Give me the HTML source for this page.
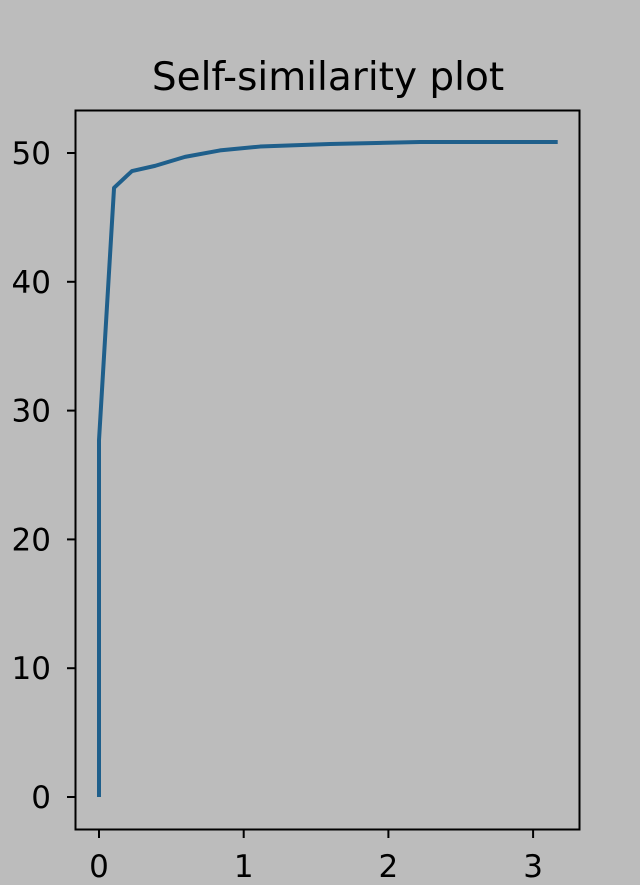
<!DOCTYPE html>
<html><head><meta charset="utf-8"><style>
body{margin:0;background:#bcbcbc;}
svg{display:block;font-family:"DejaVu Sans","Liberation Sans",sans-serif;}
.tk{font-size:31px;}
.ttl{font-size:39px;}
</style></head><body>
<svg width="640" height="885">
<rect width="640" height="885" fill="#bcbcbc"/>
<text class="ttl" x="328" y="90" text-anchor="middle" fill="#000">Self-similarity plot</text>
<g id="axes"></g>
<path id="line" fill="none" stroke="#1f5f8b" stroke-width="4" stroke-linejoin="round"/>
<rect x="75.5" y="110.5" width="504" height="719" fill="none" stroke="#000" stroke-width="2"/>
</svg>
<script>
const xs = [0, 0, 0.104, 0.228, 0.387, 0.594, 0.836, 1.113, 1.596, 2.218, 3.17];
const ys = [0, 27.7, 47.3, 48.6, 49.0, 49.7, 50.2, 50.5, 50.7, 50.85, 50.85];
const xTicks = [0, 1, 2, 3];
const yTicks = [0, 10, 20, 30, 40, 50];
function sx(v){return 99 + v*144.7;}
function sy(v){return 797 - v*12.88;}
const ns="http://www.w3.org/2000/svg";
const g=document.getElementById('axes');
xTicks.forEach(t=>{
  const l=document.createElementNS(ns,'line');
  l.setAttribute('x1',sx(t));l.setAttribute('x2',sx(t));l.setAttribute('y1',830);l.setAttribute('y2',838);
  l.setAttribute('stroke','#000');l.setAttribute('stroke-width',2);
  
  
  g.appendChild(l);
  const tx=document.createElementNS(ns,'text');
  tx.setAttribute('x',sx(t));tx.setAttribute('y',877);tx.setAttribute('class','tk');tx.setAttribute('text-anchor','middle');
  tx.textContent=t;
  
  
  g.appendChild(tx);
});
yTicks.forEach(t=>{
  const l=document.createElementNS(ns,'line');
  l.setAttribute('x1',67);l.setAttribute('x2',75);l.setAttribute('y1',sy(t));l.setAttribute('y2',sy(t));
  l.setAttribute('stroke','#000');l.setAttribute('stroke-width',2);
  
  
  g.appendChild(l);
  const tx=document.createElementNS(ns,'text');
  tx.setAttribute('x',51);tx.setAttribute('y',sy(t)+11);tx.setAttribute('class','tk');tx.setAttribute('text-anchor','end');
  tx.textContent=t;
  
  
  g.appendChild(tx);
});
document.getElementById('line').setAttribute('d', xs.map((x,i)=>(i?'L':'M')+sx(x)+','+sy(ys[i])).join(' '));
</script>
</body></html>
